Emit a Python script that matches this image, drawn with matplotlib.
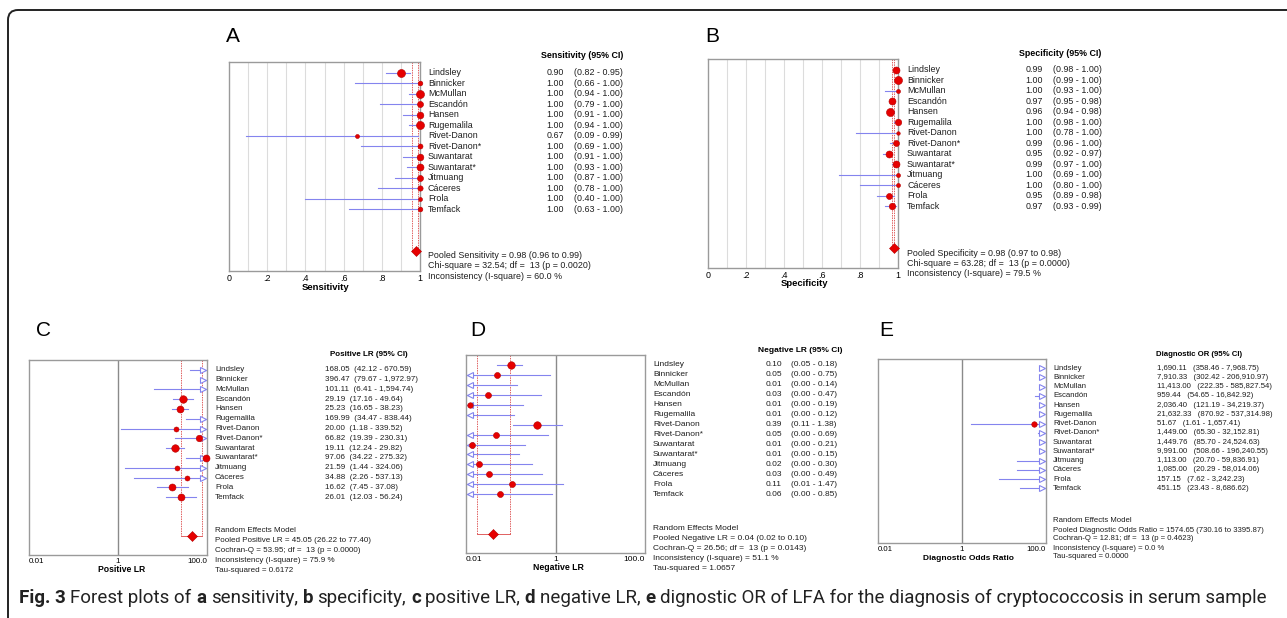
import matplotlib
matplotlib.use('Agg')
import matplotlib.pyplot as plt
from matplotlib.transforms import blended_transform_factory
from matplotlib.patches import FancyBboxPatch

plt.rcParams['font.family'] = ['Liberation Sans', 'DejaVu Sans']

studies = ['Lindsley', 'Binnicker', 'McMullan', 'Escandón', 'Hansen', 'Rugemalila',
           'Rivet-Danon', 'Rivet-Danon*', 'Suwantarat', 'Suwantarat*', 'Jitmuang',
           'Cáceres', 'Frola', 'Temfack']

# A - sensitivity
sens = [0.90, 1.00, 1.00, 1.00, 1.00, 1.00, 0.67, 1.00, 1.00, 1.00, 1.00, 1.00, 1.00, 1.00]
sens_lo = [0.82, 0.66, 0.94, 0.79, 0.91, 0.94, 0.09, 0.69, 0.91, 0.93, 0.87, 0.78, 0.40, 0.63]
sens_hi = [0.95, 1.00, 1.00, 1.00, 1.00, 1.00, 0.99, 1.00, 1.00, 1.00, 1.00, 1.00, 1.00, 1.00]
sens_wt = [8, 4.7, 8, 6, 6.7, 8, 4, 5, 6.7, 7, 6, 5.3, 4, 4.7]
sens_pool = [0.98, 0.96, 0.99]

# B - specificity
spec = [0.99, 1.00, 1.00, 0.97, 0.96, 1.00, 1.00, 0.99, 0.95, 0.99, 1.00, 1.00, 0.95, 0.97]
spec_lo = [0.98, 0.99, 0.93, 0.95, 0.94, 0.98, 0.78, 0.96, 0.92, 0.97, 0.69, 0.80, 0.89, 0.93]
spec_hi = [1.00, 1.00, 1.00, 0.98, 0.98, 1.00, 1.00, 1.00, 0.97, 1.00, 1.00, 1.00, 0.98, 0.99]
spec_wt = [7, 8, 4, 7, 8, 6.5, 3.5, 6, 7, 7, 4, 4, 6, 6.5]
spec_pool = [0.98, 0.97, 0.98]

# C - positive LR
plr = [168.05, 396.47, 101.11, 29.19, 25.23, 169.99, 20.00, 66.82, 19.11, 97.06, 21.59, 34.88, 16.62, 26.01]
plr_lo = [42.12, 79.67, 6.41, 17.16, 16.65, 34.47, 1.18, 19.39, 12.24, 34.22, 1.44, 2.26, 7.45, 12.03]
plr_hi = [670.59, 1972.97, 1594.74, 49.64, 38.23, 838.44, 339.52, 230.31, 29.82, 275.32, 324.06, 537.13, 37.08, 56.24]
plr_wt = [6, 6, 6, 7.5, 7, 6, 5, 6.5, 7.5, 7, 5, 5, 7, 7]
plr_pool = [45.05, 26.22, 77.40]

# D - negative LR
nlr = [0.101, 0.049, 0.009, 0.031, 0.0123, 0.008, 0.386, 0.047, 0.0136, 0.009, 0.0196, 0.0327, 0.107, 0.058]
nlr_lo = [0.05, 0.00, 0.00, 0.00, 0.00, 0.00, 0.11, 0.00, 0.00, 0.00, 0.00, 0.00, 0.008, 0.00]
nlr_hi = [0.18, 0.75, 0.14, 0.47, 0.19, 0.12, 1.38, 0.69, 0.21, 0.15, 0.30, 0.49, 1.47, 0.85]
nlr_wt = [7.5, 6, 4, 6, 5.5, 4, 7.5, 6, 6, 4, 6, 6, 6, 6]
nlr_pool = [0.04, 0.018, 0.097]

# E - diagnostic OR
dor = [1690.11, 7910.33, 11413.00, 959.44, 2036.40, 21632.33, 51.67, 1449.00, 1449.76, 9991.00,
       1113.00, 1085.00, 157.15, 451.15]
dor_lo = [358.46, 302.42, 222.35, 54.65, 121.19, 870.92, 1.61, 65.30, 85.70, 508.66, 20.70, 20.29, 7.62, 23.43]
dor_hi = [7968.75, 206910.97, 585827.54, 16842.92, 34219.37, 537314.98, 1657.41, 32152.81, 24524.63,
          196240.55, 59836.91, 58014.06, 3242.23, 8686.62]
dor_wt = [5, 5, 5, 5, 5, 5, 5.5, 5, 5, 5, 5, 5, 5, 5]
dor_pool = [1574.65, 730.16, 3395.87]

RED = '#e60000'
CI = '#8484ee'
TXT = '#1e1e1e'
W, H = 1287, 618

fig = plt.figure(figsize=(W / 100, H / 100), dpi=100)


def px_ax(l, t, r, b):
    return fig.add_axes([l / W, 1 - b / H, (r - l) / W, (b - t) / H])


def ftext(x, y, s, **kw):
    kw.setdefault('va', 'center')
    return fig.text(x / W, 1 - y / H, s, **kw)


def forest(ax, est, lo, hi, wt, pool, xmin, xmax, log=False, box=False):
    if log:
        ax.set_xscale('log')
    ax.set_xlim(xmin, xmax)
    ax.set_ylim(18.9, -1)
    edge = blended_transform_factory(ax.transAxes, ax.transData)
    for i in range(len(est)):
        a = max(lo[i], xmin)
        b = min(hi[i], xmax)
        if a < b:
            ax.plot([a, b], [i, i], color=CI, lw=0.8, zorder=2)
        if hi[i] > xmax:
            ax.plot(0.975, i, marker='>', ms=4.5, mfc='white', mec=CI, mew=0.8,
                    transform=edge, clip_on=False, zorder=3)
        if lo[i] < xmin:
            ax.plot(0.025, i, marker='<', ms=4.5, mfc='white', mec=CI, mew=0.8,
                    transform=edge, clip_on=False, zorder=3)
        if xmin <= est[i] <= xmax:
            ax.plot(est[i], i, 'o', ms=wt[i] * 0.72, color=RED, mec='#b40000', mew=0.4,
                    clip_on=False, zorder=4)
    p, plo, phi = pool
    if xmin <= p <= xmax:
        ax.plot([plo, plo], [-1, 17], color='#e06060', lw=0.7, ls=(0, (1.5, 1)), zorder=1)
        ax.plot([phi, phi], [-1, 17], color='#e06060', lw=0.7, ls=(0, (1.5, 1)), zorder=1)
        if box:
            ax.plot([plo, phi], [17, 17], color='#e06060', lw=0.7, zorder=1)
        ax.plot(p, 17, 'D', ms=5, color=RED, mec='#b40000', mew=0.4, clip_on=False, zorder=4)
    for s in ax.spines.values():
        s.set_color('#9a9a9a')
        s.set_linewidth(1)
    ax.set_yticks([])
    ax.tick_params(axis='x', length=0, pad=2.5)


def row_text(ax, x, texts, size, ha='left'):
    tr = blended_transform_factory(fig.transFigure, ax.transData)
    for i, s in enumerate(texts):
        fig.text(x / W, i, s, transform=tr, va='center', ha=ha, fontsize=size, color=TXT)


def stats(x, ys, lines, size):
    for y, s in zip(ys, lines):
        ftext(x, y, s, fontsize=size, color=TXT)


GRID = [0.1, 0.2, 0.3, 0.4, 0.5, 0.6, 0.7, 0.8, 0.9]

# ---------- A ----------
fsA = 6.4
axA = px_ax(229, 62, 420, 271)
for g in GRID:
    axA.axvline(g, color='#dcdcdc', lw=0.8, zorder=0)
forest(axA, sens, sens_lo, sens_hi, sens_wt, sens_pool, 0, 1)
axA.set_xticks([0, 0.2, 0.4, 0.6, 0.8, 1])
axA.set_xticklabels(['0', '.2', '.4', '.6', '.8', '1'], fontsize=fsA)
row_text(axA, 428, studies, fsA)
row_text(axA, 564, [f'{v:.2f}' for v in sens], fsA, 'right')
row_text(axA, 574, [f'({a:.2f} - {b:.2f})' for a, b in zip(sens_lo, sens_hi)], fsA)
ftext(623, 56, 'Sensitivity (95% CI)', ha='right', fontsize=fsA, fontweight='bold')
ftext(325, 288, 'Sensitivity', ha='center', fontsize=6.8, fontweight='bold')
ftext(226, 37, 'A', fontsize=15)
stats(428, [256, 266, 277], [
    'Pooled Sensitivity = %.2f (%.2f to %.2f)' % tuple(sens_pool),
    'Chi-square = 32.54; df =  13 (p = 0.0020)',
    'Inconsistency (I-square) = 60.0 %'], fsA)

# ---------- B ----------
axB = px_ax(708, 59, 898, 268)
for g in GRID:
    axB.axvline(g, color='#dcdcdc', lw=0.8, zorder=0)
forest(axB, spec, spec_lo, spec_hi, spec_wt, spec_pool, 0, 1)
axB.set_xticks([0, 0.2, 0.4, 0.6, 0.8, 1])
axB.set_xticklabels(['0', '.2', '.4', '.6', '.8', '1'], fontsize=fsA)
row_text(axB, 907, studies, fsA)
row_text(axB, 1043, [f'{v:.2f}' for v in spec], fsA, 'right')
row_text(axB, 1053, [f'({a:.2f} - {b:.2f})' for a, b in zip(spec_lo, spec_hi)], fsA)
ftext(1101, 53, 'Specificity (95% CI)', ha='right', fontsize=fsA, fontweight='bold')
ftext(804, 284, 'Specificity', ha='center', fontsize=6.8, fontweight='bold')
ftext(705, 37, 'B', fontsize=15)
stats(907, [253, 263, 273], [
    'Pooled Specificity = %.2f (%.2f to %.2f)' % tuple(spec_pool),
    'Chi-square = 63.28; df =  13 (p = 0.0000)',
    'Inconsistency (I-square) = 79.5 %'], fsA)


def log_ticks(ax, size):
    ax.axvline(1, color='#8a8a8a', lw=1, zorder=0)
    ax.set_xticks([0.01, 1, 100])
    ax.set_xticklabels(['0.01', '1', '100.0'], fontsize=size)
    ax.minorticks_off()
    labs = ax.get_xticklabels()
    labs[0].set_ha('left')
    labs[2].set_ha('right')


# ---------- C ----------
fsC = 5.8
axC = px_ax(29, 360, 207, 555)
forest(axC, plr, plr_lo, plr_hi, plr_wt, plr_pool, 0.01, 100, log=True, box=True)
log_ticks(axC, fsC)
row_text(axC, 215, studies, fsC)
row_text(axC, 325, [f'{v:.2f}  ({a:,.2f} - {b:,.2f})' for v, a, b in zip(plr, plr_lo, plr_hi)], fsC)
ftext(408, 355, 'Positive LR (95% CI)', ha='right', fontsize=fsC, fontweight='bold')
ftext(122, 570, 'Positive LR', ha='center', fontsize=6.2, fontweight='bold')
ftext(36, 330, 'C', fontsize=15)
stats(215, [531, 541, 550, 560, 570], [
    'Random Effects Model',
    'Pooled Positive LR = %.2f (%.2f to %.2f)' % tuple(plr_pool),
    'Cochran-Q = 53.95; df =  13 (p = 0.0000)',
    'Inconsistency (I-square) = 75.9 %',
    'Tau-squared = 0.6172'], fsC)

# ---------- D ----------
fsD = 6.0
axD = px_ax(466, 355, 645, 553)
forest(axD, nlr, nlr_lo, nlr_hi, nlr_wt, nlr_pool, 0.01, 100, log=True, box=True)
log_ticks(axD, fsD)
row_text(axD, 653, studies, fsD)
row_text(axD, 782, [f'{v:.2f}' for v in nlr], fsD, 'right')
row_text(axD, 791, [f'({a:.2f} - {b:.2f})' for a, b in zip(nlr_lo, nlr_hi)], fsD)
ftext(843, 351, 'Negative LR (95% CI)', ha='right', fontsize=fsD, fontweight='bold')
ftext(558, 568, 'Negative LR', ha='center', fontsize=6.3, fontweight='bold')
ftext(470, 330, 'D', fontsize=15)
stats(653, [529, 539, 548, 558, 568], [
    'Random Effects Model',
    'Pooled Negative LR = %.2f (%.2f to %.2f)' % tuple(nlr_pool),
    'Cochran-Q = 26.56; df =  13 (p = 0.0143)',
    'Inconsistency (I-square) = 51.1 %',
    'Tau-squared = 1.0657'], fsD)

# ---------- E ----------
fsE = 5.6
axE = px_ax(878, 359, 1046, 543)
forest(axE, dor, dor_lo, dor_hi, dor_wt, dor_pool, 0.01, 100, log=True, box=True)
log_ticks(axE, fsE)
row_text(axE, 1053, studies, fsE)
row_text(axE, 1157, [f'{v:,.2f}   ({a:,.2f} - {b:,.2f})' for v, a, b in zip(dor, dor_lo, dor_hi)], fsE)
ftext(1242, 354, 'Diagnostic OR (95% CI)', ha='right', fontsize=fsE, fontweight='bold')
ftext(968, 558, 'Diagnostic Odds Ratio', ha='center', fontsize=6.0, fontweight='bold')
ftext(879, 330, 'E', fontsize=15)
stats(1053, [521, 530, 539, 548, 557], [
    'Random Effects Model',
    'Pooled Diagnostic Odds Ratio = %.2f (%.2f to %.2f)' % tuple(dor_pool),
    'Cochran-Q = 12.81; df =  13 (p = 0.4623)',
    'Inconsistency (I-square) = 0.0 %',
    'Tau-squared = 0.0000'], fsE)

# ---------- frame + caption ----------
fig.add_artist(FancyBboxPatch((8, -30), 1320, 608 + 30, boxstyle='round,pad=0,rounding_size=10',
                              transform=None, fc='none', ec='#222222', lw=1.4))

cap_font = ['Roboto', 'DejaVu Sans']
pieces = [('Fig. 3', True), ('Forest plots of', False), ('a', True), ('sensitivity,', False),
          ('b', True), ('specificity,', False), ('c', True), ('positive LR,', False),
          ('d', True), ('negative LR,', False), ('e', True),
          ('dignostic OR of LFA for the diagnosis of cryptococcosis in serum sample', False)]
renderer = fig.canvas.get_renderer()


def caption(size, keep):
    made = []
    x = 19
    t1 = ftext(0, 0, 'x x', fontsize=size, family=cap_font)
    t2 = ftext(0, 0, 'xx', fontsize=size, family=cap_font)
    sp = t1.get_window_extent(renderer).width - t2.get_window_extent(renderer).width
    t1.remove()
    t2.remove()
    for s, bold in pieces:
        t = ftext(x, 598, s, fontsize=size, family=cap_font,
                  fontweight='bold' if bold else 'normal', color='#222222')
        x += t.get_window_extent(renderer).width + sp
        made.append(t)
    if not keep:
        for t in made:
            t.remove()
    return x - sp - 19


wid = caption(10, False)
caption(10 * 1251 / wid, True)

fig.savefig('out.png', dpi=100)
